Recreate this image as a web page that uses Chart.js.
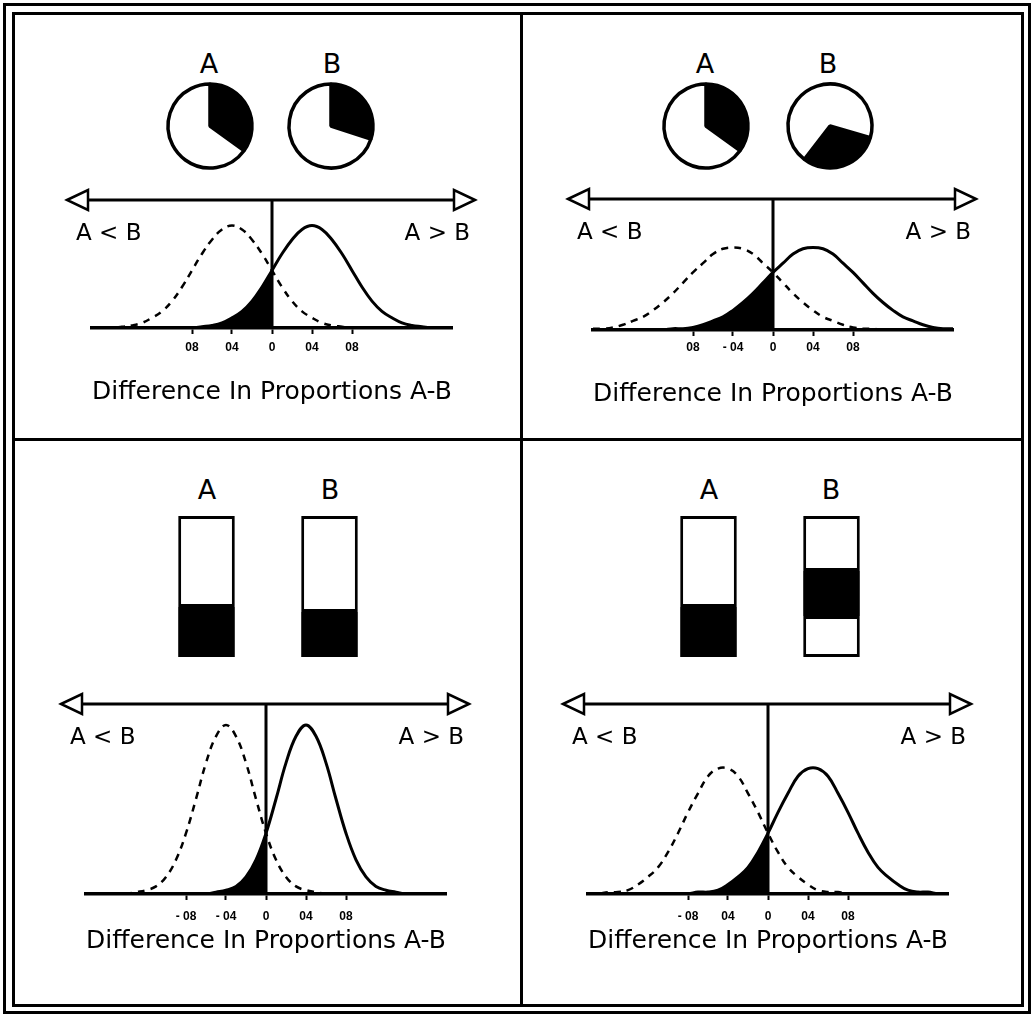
<!DOCTYPE html>
<html>
<head>
<meta charset="utf-8">
<script src="https://cdn.jsdelivr.net/npm/chart.js@4.4.1/dist/chart.umd.min.js"></script>
<style>
  body { margin: 0; background: #fff; }
  #page { position: relative; width: 1034px; height: 1017px; overflow: hidden; font-family: 'DejaVu Sans', sans-serif; }
  .frame { position: absolute; border: 3px solid #000; box-sizing: border-box; }
  .rule { position: absolute; background: #000; }
  .lbl { position: absolute; width: 40px; margin-left: -20px; font-size: 27px; line-height: 26px; text-align: center; color: #000; }
  canvas { position: absolute; }
</style>
</head>
<body>
<div id="page">
  <div class="frame" style="left:3px;top:3px;width:1028px;height:1011px"></div>
  <div class="frame" style="left:12px;top:12px;width:1012px;height:995px"></div>
  <div class="rule" style="left:520px;top:12px;width:3px;height:995px"></div>
  <div class="rule" style="left:12px;top:438px;width:1012px;height:3px"></div>
</div>
<script>
// x positions of the curve points (difference in proportions)
const diffX = [-0.18, -0.17, -0.16, -0.15, -0.14, -0.13, -0.12, -0.11, -0.10, -0.09,
               -0.08, -0.07, -0.06, -0.05, -0.04, -0.03, -0.02, -0.01, 0, 0.01,
               0.02, 0.03, 0.04, 0.05, 0.06, 0.07, 0.08, 0.09, 0.10, 0.11,
               0.12, 0.13, 0.14, 0.15, 0.16, 0.17, 0.18];
const tickValues = [-0.08, -0.04, 0, 0.04, 0.08];

// top left: pies, narrow-ish curves
const tlPieA = [0.35, 0.65];
const tlPieB = [0.30, 0.70];
const tlTickLabels = ['08', '04', '0', '04', '08'];
const tlSolid = [0, 0, 0, 0, 0, 0, 0, 0, 0, 0, 0,
  0.01, 0.02, 0.04, 0.08, 0.13, 0.21, 0.32, 0.45, 0.58, 0.69, 0.77, 0.80, 0.77, 0.69, 0.58, 0.45, 0.32, 0.21, 0.13, 0.08, 0.04, 0.02, 0.01,
  0, 0, 0];
const tlDashed = [0, 0, 0,
  0.01, 0.02, 0.04, 0.08, 0.13, 0.21, 0.32, 0.45, 0.58, 0.69, 0.77, 0.80, 0.77, 0.69, 0.58, 0.45, 0.32, 0.21, 0.13, 0.08, 0.04, 0.02, 0.01,
  0, 0, 0, 0, 0, 0, 0, 0, 0, 0, 0];

// top right: pies, wide curves
const trPieA = [0.35, 0.65];
const trPieB = [0.31, 0.69];
const trPieBStart = 106;
const trTickLabels = ['08', '- 04', '0', '04', '08'];
const trSolid = [0, 0, 0, 0, 0, 0, 0, 0,
  0.01, 0.01, 0.02, 0.04, 0.07, 0.10, 0.15, 0.21, 0.28, 0.36, 0.44, 0.51, 0.58, 0.62, 0.63, 0.62, 0.58, 0.51, 0.44, 0.36, 0.28, 0.21, 0.15, 0.10, 0.07, 0.04, 0.02, 0.01, 0.01];
const trDashed = [0.01, 0.01, 0.02, 0.04, 0.07, 0.10, 0.15, 0.21, 0.28, 0.36, 0.44, 0.51, 0.58, 0.62, 0.63, 0.62, 0.58, 0.51, 0.44, 0.36, 0.28, 0.21, 0.15, 0.10, 0.07, 0.04, 0.02, 0.01, 0.01,
  0, 0, 0, 0, 0, 0, 0, 0];

// bottom left: bars, narrow curves
const blBarBlack = [0.355, 0.32];
const blBarWhite = [0.645, 0.68];
const blTickLabels = ['- 08', '- 04', '0', '04', '08'];
const blSolid = [0, 0, 0, 0, 0, 0, 0, 0, 0, 0, 0, 0, 0,
  0.01, 0.02, 0.04, 0.09, 0.18, 0.32, 0.50, 0.69, 0.83, 0.89, 0.83, 0.69, 0.50, 0.32, 0.18, 0.09, 0.04, 0.02, 0.01,
  0, 0, 0, 0, 0];
const blDashed = [0, 0, 0, 0, 0,
  0.01, 0.02, 0.04, 0.09, 0.18, 0.32, 0.50, 0.69, 0.83, 0.89, 0.83, 0.69, 0.50, 0.32, 0.18, 0.09, 0.04, 0.02, 0.01,
  0, 0, 0, 0, 0, 0, 0, 0, 0, 0, 0, 0, 0];

// bottom right: bars (B split in three), medium curves
const brBarLow = [0.355, 0.29];
const brBarMid = [0.645, 0.32];
const brBarTop = [null, 0.39];
const brTickLabels = ['- 08', '04', '0', '04', '08'];
const brSolid = [0, 0, 0, 0, 0, 0, 0, 0, 0, 0, 0,
  0.01, 0.01, 0.02, 0.05, 0.09, 0.14, 0.22, 0.32, 0.43, 0.53, 0.62, 0.66, 0.66, 0.62, 0.53, 0.43, 0.32, 0.22, 0.14, 0.09, 0.05, 0.02, 0.01, 0.01,
  0, 0];
const brDashed = [0, 0,
  0.01, 0.01, 0.02, 0.05, 0.09, 0.14, 0.22, 0.32, 0.43, 0.53, 0.62, 0.66, 0.66, 0.62, 0.53, 0.43, 0.32, 0.22, 0.14, 0.09, 0.05, 0.02, 0.01, 0.01,
  0, 0, 0, 0, 0, 0, 0, 0, 0, 0, 0];

Chart.defaults.font.family = "'DejaVu Sans', sans-serif";
Chart.defaults.color = '#000';
Chart.defaults.plugins.legend.display = false;
Chart.defaults.plugins.tooltip.enabled = false;

const page = document.getElementById('page');

function addCanvas(x, y, w, h) {
  const c = document.createElement('canvas');
  c.width = w;
  c.height = h;
  c.style.left = x + 'px';
  c.style.top = y + 'px';
  c.style.width = w + 'px';
  c.style.height = h + 'px';
  page.appendChild(c);
  return c;
}

function addLabel(text, cx, cy) {
  const d = document.createElement('div');
  d.className = 'lbl';
  d.textContent = text;
  d.style.left = cx + 'px';
  d.style.top = (cy - 13) + 'px';
  page.appendChild(d);
}

// double headed arrow, zero line and the A<B / A>B captions
const arrowAxis = {
  id: 'arrowAxis',
  afterDatasetsDraw(chart, args, opts) {
    const ctx = chart.ctx;
    const x = chart.scales.x, y = chart.scales.y;
    const yTop = y.getPixelForValue(1);
    const yBase = y.getPixelForValue(0);
    const xl = x.getPixelForValue(opts.from);
    const xr = x.getPixelForValue(opts.to);
    const x0 = x.getPixelForValue(0);
    ctx.save();
    ctx.strokeStyle = '#000';
    ctx.lineWidth = 3;
    ctx.beginPath();
    ctx.moveTo(xl + 21, yTop);
    ctx.lineTo(xr - 21, yTop);
    ctx.moveTo(x0, yTop);
    ctx.lineTo(x0, yBase);
    ctx.stroke();
    ctx.fillStyle = '#fff';
    ctx.lineWidth = 2.5;
    [[xl, 1], [xr, -1]].forEach(function (h) {
      ctx.beginPath();
      ctx.moveTo(h[0], yTop);
      ctx.lineTo(h[0] + h[1] * 21, yTop - 10);
      ctx.lineTo(h[0] + h[1] * 21, yTop + 10);
      ctx.closePath();
      ctx.fill();
      ctx.stroke();
    });
    ctx.fillStyle = '#000';
    ctx.font = "23px 'DejaVu Sans'";
    ctx.textBaseline = 'middle';
    ctx.textAlign = 'left';
    ctx.fillText('A < B', xl + 9, yTop + 34);
    ctx.textAlign = 'right';
    ctx.fillText('A > B', xr - 5, yTop + 34);
    ctx.restore();
  }
};

function drawCurves(p) {
  const top = p.area.t - 60;
  const h = p.area.b - top + p.axisH;
  const canvas = addCanvas(p.left, top, p.width, h);
  const pts = arr => diffX.map((x, i) => ({ x: x, y: arr[i] }));
  new Chart(canvas, {
    type: 'line',
    data: {
      datasets: [
        { data: pts(p.solid).slice(0, 19), fill: 'origin', backgroundColor: '#000', borderWidth: 0 },
        { data: pts(p.dashed), borderColor: '#000', borderWidth: 2.5, borderDash: [7, 6], fill: false },
        { data: pts(p.solid), borderColor: '#000', borderWidth: 3, fill: false }
      ]
    },
    options: {
      responsive: false,
      animation: false,
      events: [],
      elements: { point: { radius: 0 }, line: { tension: 0.4 } },
      layout: { padding: { left: p.area.l - p.left, right: p.left + p.width - p.area.r, top: 60, bottom: 0 } },
      scales: {
        x: {
          type: 'linear', min: -0.18, max: 0.18,
          afterBuildTicks: s => { s.ticks = tickValues.map(v => ({ value: v })); },
          afterFit: s => { s.height = p.axisH; },
          grid: { drawOnChartArea: false, drawTicks: true, tickLength: 6, tickWidth: 2, tickColor: '#000' },
          border: { display: true, color: '#000', width: 3.5 },
          ticks: {
            padding: p.tickPad, maxRotation: 0, autoSkip: false, color: '#000',
            font: { size: 12, weight: 'bold', family: "'Liberation Sans', sans-serif" },
            callback: (v, i) => p.tickLabels[i]
          },
          title: {
            display: true, text: 'Difference In Proportions A-B', color: '#000',
            font: { size: 25 }, padding: { top: 0, bottom: p.titlePad }
          }
        },
        y: { display: false, min: 0, max: 1 }
      },
      plugins: { arrowAxis: { from: -0.205, to: 0.203 } }
    },
    plugins: [arrowAxis]
  });
}

function drawPie(cx, cy, shares, start) {
  const c = addCanvas(cx - 48, cy - 48, 96, 96);
  new Chart(c, {
    type: 'pie',
    data: { datasets: [{ data: shares, backgroundColor: ['#000', '#fff'], borderColor: '#000', borderWidth: 3.5 }] },
    options: { responsive: false, animation: false, events: [], radius: 42, rotation: start }
  });
}

function drawBars(left, segments) {
  const c = addCanvas(left, 514, 246, 145);
  new Chart(c, {
    type: 'bar',
    data: {
      labels: ['A', 'B'],
      datasets: segments.map(s => ({
        data: s.values, backgroundColor: s.colors, borderColor: '#000',
        borderWidth: s.colors.map(col => (col === '#000' ? 0 : 3)),
        borderSkipped: false, barPercentage: 0.46, categoryPercentage: 1
      }))
    },
    options: {
      responsive: false, animation: false, events: [],
      layout: { padding: { top: 2, bottom: 2, left: 0, right: 0 } },
      scales: {
        x: { display: false, stacked: true },
        y: { display: false, stacked: true, min: 0, max: 1 }
      }
    }
  });
}

// top left
addLabel('A', 209, 64);
addLabel('B', 332, 64);
drawPie(210, 126, tlPieA, 0);
drawPie(331, 126, tlPieB, 0);
drawCurves({ left: 16, width: 502, area: { l: 92, r: 452, t: 200, b: 328 }, axisH: 90, tickPad: 6, titlePad: 11,
  solid: tlSolid, dashed: tlDashed, tickLabels: tlTickLabels });

// top right
addLabel('A', 705, 64);
addLabel('B', 828, 64);
drawPie(706, 126, trPieA, 0);
drawPie(830, 126, trPieB, trPieBStart);
drawCurves({ left: 525, width: 494, area: { l: 593, r: 953, t: 199, b: 330 }, axisH: 90, tickPad: 4, titlePad: 11,
  solid: trSolid, dashed: trDashed, tickLabels: trTickLabels });

// bottom left
addLabel('A', 207, 490);
addLabel('B', 330, 490);
drawBars(145, [
  { values: blBarBlack, colors: ['#000', '#000'] },
  { values: blBarWhite, colors: ['#fff', '#fff'] }
]);
drawCurves({ left: 16, width: 502, area: { l: 86, r: 446, t: 704, b: 894 }, axisH: 75, tickPad: 9, titlePad: 13,
  solid: blSolid, dashed: blDashed, tickLabels: blTickLabels });

// bottom right
addLabel('A', 709, 490);
addLabel('B', 831, 490);
drawBars(647, [
  { values: brBarLow, colors: ['#000', '#fff'] },
  { values: brBarMid, colors: ['#fff', '#000'] },
  { values: brBarTop, colors: ['#fff', '#fff'] }
]);
drawCurves({ left: 525, width: 494, area: { l: 588, r: 948, t: 704, b: 894 }, axisH: 75, tickPad: 9, titlePad: 13,
  solid: brSolid, dashed: brDashed, tickLabels: brTickLabels });
</script>
</body>
</html>
